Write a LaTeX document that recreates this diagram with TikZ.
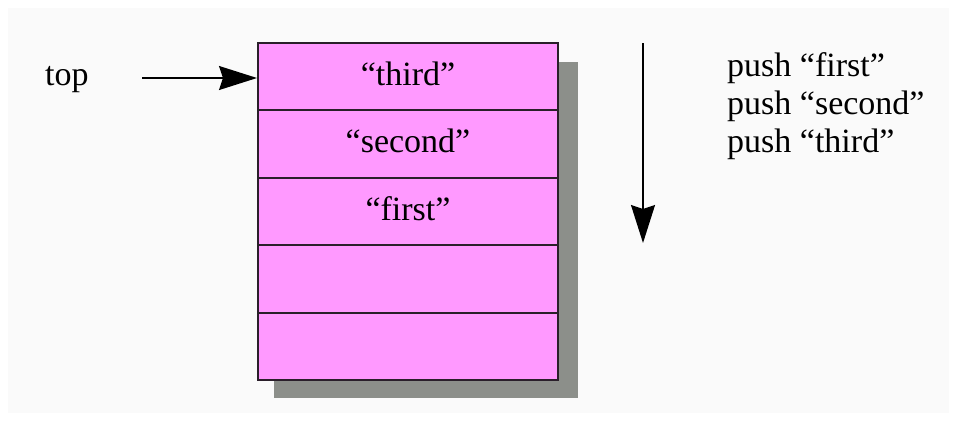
\documentclass[tikz,border=0pt]{standalone}
\usepackage{fontspec}
\setmainfont{Liberation Serif}
\usetikzlibrary{arrows.meta}
\definecolor{bg}{HTML}{FAFAFA}
\definecolor{stackpink}{HTML}{FF99FF}
\definecolor{shadowgray}{HTML}{8C8F8A}
\definecolor{edge}{HTML}{2A1F2A}
\tikzset{
  cell/.style={draw=edge, line width=2pt, fill=stackpink, minimum width=300pt, minimum height=67.4pt, inner sep=0pt},
  celltext/.style={inner sep=0pt, anchor=base, font=\fontsize{34}{40}\selectfont},
  lbl/.style={inner sep=0pt, font=\fontsize{34}{40}\selectfont, anchor=base west},
  bigarrow/.style={line width=1.5pt, -{Stealth[length=38pt, width=24pt, inset=4pt]}}
}
\begin{document}
\begin{tikzpicture}[x=1pt, y=-1pt]
\useasboundingbox (0,0) rectangle (957,421);
\fill[white] (0,0) rectangle (957,421);
\fill[bg] (8,8) rectangle (949,413);
\fill[shadowgray] (274,62) rectangle (578,398);
\node[cell] (c1) at (408,76.7) {};
\node[cell] (c2) at (408,144.1) {};
\node[cell] (c3) at (408,211.5) {};
\node[cell] (c4) at (408,278.9) {};
\node[cell] (c5) at (408,346.3) {};
\node[celltext] (t1) at (408,85.2) {“third”};
\node[celltext] (t2) at (408,152.6) {“second”};
\node[celltext] (t3) at (408,220) {“first”};
\node[lbl] (top) at (45,85) {top};
\coordinate (ts) at (142,78);
\draw[bigarrow] (ts) -- (ts -| c1.west);
\coordinate (da) at (643,43);
\coordinate (db) at (643,243);
\draw[bigarrow] (da) -- (db);
\node[lbl] (p1) at (727,76) {push “first”};
\node[lbl] (p2) at (727,114) {push “second”};
\node[lbl] (p3) at (727,152) {push “third”};
\end{tikzpicture}
\end{document}
